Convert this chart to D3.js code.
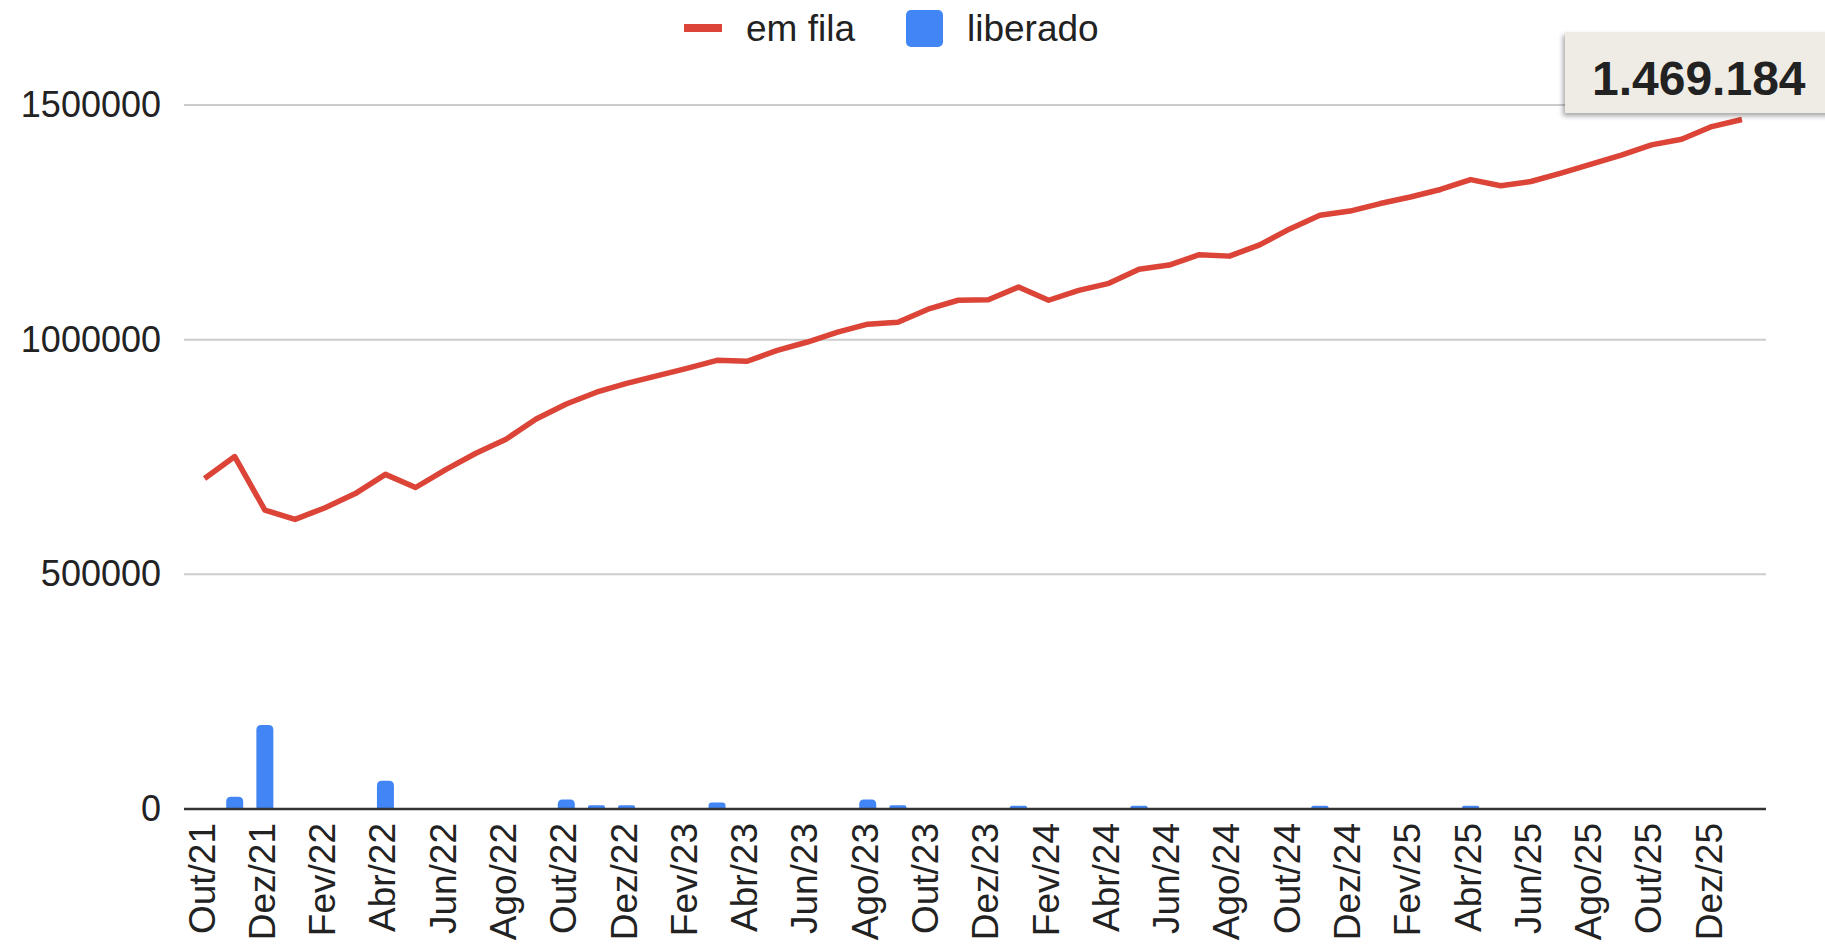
<!DOCTYPE html>
<html>
<head>
<meta charset="utf-8">
<script src="https://cdn.jsdelivr.net/npm/d3@7"></script>
<style>
  html, body { margin: 0; padding: 0; background: #fff; }
  svg { display: block; }
  text { font-family: "Liberation Sans", Arial, sans-serif; fill: #222; }
</style>
</head>
<body>
<svg id="chart"></svg>
<script>
const W = 1825, H = 947;

// categorias (meses)
const months = ["Out/21","Nov/21","Dez/21","Jan/22","Fev/22","Mar/22","Abr/22","Mai/22","Jun/22","Jul/22","Ago/22","Set/22",
  "Out/22","Nov/22","Dez/22","Jan/23","Fev/23","Mar/23","Abr/23","Mai/23","Jun/23","Jul/23","Ago/23","Set/23",
  "Out/23","Nov/23","Dez/23","Jan/24","Fev/24","Mar/24","Abr/24","Mai/24","Jun/24","Jul/24","Ago/24","Set/24",
  "Out/24","Nov/24","Dez/24","Jan/25","Fev/25","Mar/25","Abr/25","Mai/25","Jun/25","Jul/25","Ago/25","Set/25",
  "Out/25","Nov/25","Dez/25","Jan/26"];

// series
const emFila = [704000, 751000, 637000, 617000, 642000, 672000, 713000, 685000, 723000, 758000, 788000, 831000,
  863000, 888000, 907000, 923000, 939000, 956000, 954000, 977000, 995000, 1016000, 1033000, 1037000,
  1065000, 1084000, 1085000, 1112000, 1084000, 1105000, 1120000, 1150000, 1159000, 1181000, 1178000, 1202000,
  1236000, 1265000, 1274000, 1290000, 1304000, 1320000, 1341000, 1328000, 1337000, 1355000, 1374000, 1393000,
  1415000, 1427000, 1454000, 1469184];

const liberado = [0, 26000, 179000, 0, 0, 0, 60000, 0, 0, 0, 0, 0,
  20000, 8000, 8000, 0, 0, 14000, 0, 0, 0, 0, 20000, 8000,
  0, 0, 0, 7000, 0, 0, 0, 7000, 0, 0, 0, 0,
  0, 7000, 0, 0, 0, 0, 7000, 0, 0, 0, 0, 0,
  0, 0, 0, 0];

// ticks
const yTicks = [0, 500000, 1000000, 1500000];
const xTicks = ["Out/21","Dez/21","Fev/22","Abr/22","Jun/22","Ago/22","Out/22","Dez/22","Fev/23","Abr/23","Jun/23","Ago/23",
  "Out/23","Dez/23","Fev/24","Abr/24","Jun/24","Ago/24","Out/24","Dez/24","Fev/25","Abr/25","Jun/25","Ago/25","Out/25","Dez/25"];

const RED = "#db4437", BLUE = "#4285f4";
const plot = {left: 184, right: 1766, top: 105, bottom: 809};

const svg = d3.select("#chart").attr("width", W).attr("height", H);

const x = d3.scaleBand().domain(months).range([189.5, 1757]);
const y = d3.scaleLinear().domain([0, 1500000]).range([plot.bottom, plot.top]);

// gridlines
svg.append("g")
  .selectAll("line")
  .data(yTicks.filter(d => d !== 0))
  .join("line")
  .attr("x1", plot.left).attr("x2", plot.right)
  .attr("y1", d => y(d)).attr("y2", d => y(d))
  .attr("stroke", "#cccccc").attr("stroke-width", 2);

// y axis labels
const yAxis = d3.axisLeft(y).tickValues(yTicks).tickSize(0).tickPadding(0).tickFormat(d3.format("d"));
svg.append("g")
  .attr("transform", `translate(161,0)`)
  .call(yAxis)
  .call(g => g.select(".domain").remove())
  .selectAll("text")
  .attr("font-size", 36)
  .attr("font-family", "Liberation Sans, Arial, sans-serif")
  .attr("fill", "#222");

// bars
const bw = 17;
svg.append("g")
  .selectAll("path")
  .data(months.map((m, i) => ({m, v: liberado[i]})).filter(d => d.v > 0))
  .join("path")
  .attr("fill", BLUE)
  .attr("d", d => {
    const cx = x(d.m) + x.bandwidth() / 2;
    const x0 = cx - bw / 2, x1 = cx + bw / 2;
    const y0 = y(0), y1 = y(d.v);
    const r = Math.min(5, (y0 - y1) / 2);
    return `M${x0},${y0}V${y1 + r}Q${x0},${y1} ${x0 + r},${y1}H${x1 - r}Q${x1},${y1} ${x1},${y1 + r}V${y0}Z`;
  });

// baseline
svg.append("line")
  .attr("x1", plot.left).attr("x2", plot.right)
  .attr("y1", y(0)).attr("y2", y(0))
  .attr("stroke", "#333").attr("stroke-width", 2.5);

// line
const line = d3.line()
  .x((d, i) => x(months[i]) + x.bandwidth() / 2)
  .y(d => y(d));
svg.append("path")
  .datum(emFila)
  .attr("fill", "none")
  .attr("stroke", RED)
  .attr("stroke-width", 5.5)
  .attr("stroke-linejoin", "round")
  .attr("d", line);

// x axis labels
const xAxis = d3.axisBottom(x).tickValues(xTicks).tickSize(0).tickPadding(0);
svg.append("g")
  .attr("transform", `translate(-3,${plot.bottom})`)
  .call(xAxis)
  .call(g => g.select(".domain").remove())
  .selectAll("text")
  .attr("font-size", 37)
  .attr("font-family", "Liberation Sans, Arial, sans-serif")
  .attr("fill", "#222")
  .attr("text-anchor", "end")
  .attr("transform", "rotate(-90)")
  .attr("x", -14)
  .attr("y", 0)
  .attr("dy", "0.35em");

// legend
const legend = svg.append("g");
legend.append("rect").attr("x", 684).attr("y", 24).attr("width", 38).attr("height", 8).attr("fill", RED);
legend.append("text").attr("x", 746).attr("y", 41).attr("font-size", 37).text("em fila");
legend.append("rect").attr("x", 906).attr("y", 10).attr("width", 37).attr("height", 37).attr("rx", 5).attr("fill", BLUE);
legend.append("text").attr("x", 967).attr("y", 41).attr("font-size", 37).text("liberado");

// callout with last value
const defs = svg.append("defs");
const f = defs.append("filter").attr("id", "shadow").attr("x", "-20%").attr("y", "-20%").attr("width", "140%").attr("height", "160%");
f.append("feDropShadow").attr("dx", -2).attr("dy", 3).attr("stdDeviation", 2.5).attr("flood-color", "#000").attr("flood-opacity", 0.35);

const br = d3.formatLocale({decimal: ",", thousands: ".", grouping: [3], currency: ["R$", ""]});
const callout = svg.append("g");
callout.append("rect")
  .attr("x", 1565).attr("y", 32).attr("width", 290).attr("height", 81)
  .attr("fill", "#eeece4")
  .attr("filter", "url(#shadow)");
callout.append("text")
  .attr("x", 1592).attr("y", 95)
  .attr("font-family", "Inter, 'Liberation Sans', sans-serif")
  .attr("font-weight", 800)
  .attr("font-size", 48)
  .attr("fill", "#111")
  .text(br.format(",d")(emFila[emFila.length - 1]));
</script>
</body>
</html>
